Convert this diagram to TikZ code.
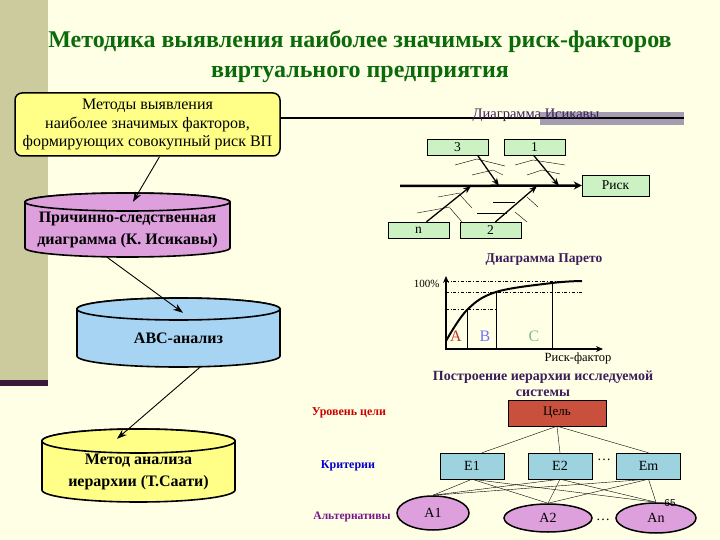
\documentclass[tikz,border=0pt]{standalone}
\usepackage{fontspec}
\setmainfont{Liberation Serif}
\newfontfamily\arialfont{Liberation Sans}
\usepackage{tikz}
\usetikzlibrary{shapes.geometric, arrows.meta, positioning, calc}
\definecolor{fundo}{HTML}{FFFFE6}
\definecolor{oliva}{HTML}{CBCB9E}
\definecolor{roxoescuro}{HTML}{3A1A3A}
\definecolor{titulo}{HTML}{0B6B0B}
\definecolor{amarelo}{HTML}{FFFF88}
\definecolor{lilas}{HTML}{DDA0DD}
\definecolor{azulcil}{HTML}{A6D4F2}
\definecolor{verdeclaro}{HTML}{CCF2C4}
\definecolor{tijolo}{HTML}{C8503C}
\definecolor{azulclaro}{HTML}{9CD3DF}
\definecolor{roxotexto}{HTML}{3C1E5A}
\definecolor{cinzalilas}{HTML}{A49CB0}
\newcommand{\tam}[2]{\fontsize{#1}{#2}\selectfont}

\begin{document}
\begin{tikzpicture}[x=1pt, y=-1pt,
    caixa/.style={draw, rounded corners=7pt, fill=amarelo, line width=1.5pt, align=center, font=\tam{16}{18.5}},
    cilindro/.style={inner sep=0pt, align=center, font=\bfseries\tam{16}{22}},
    contorno/.style={draw, line width=1.6pt},
    verde/.style={draw, fill=verdeclaro, minimum width=61pt, minimum height=16pt, inner sep=0pt, font=\tam{13.5}{15}},
    criterio/.style={draw, fill=azulclaro, minimum width=64pt, minimum height=26pt, inner sep=0pt, font=\tam{14}{16}},
    alternativa/.style={ellipse, draw, line width=1.5pt, fill=lilas, inner sep=0pt, font=\tam{14}{16}},
    seta/.style={-{Stealth[length=10pt, width=7pt]}, line width=0.9pt},
    ramo/.style={-{Stealth[length=8pt, width=6pt]}, line width=1.3pt},
    osso/.style={thin},
    nivel/.style={font=\bfseries\tam{12}{14}}
]
    % fundo e barra lateral
    \fill[fundo] (0,0) rectangle (720,540);
    \fill[oliva] (0,0) rectangle (48,380);
    \fill[roxoescuro] (0,380) rectangle (48,386);

    \node[font=\bfseries\tam{24}{30}, text=titulo, align=center] (titulo) at (360,57)
        {Методика выявления наиболее значимых риск-факторов\\виртуального предприятия};

    % cilindros
    \draw[contorno, fill=lilas] (25,202) -- (25,248) arc[start angle=180, end angle=360, x radius=102.5pt, y radius=9pt]
        -- (230,202) arc[start angle=0, end angle=180, x radius=102.5pt, y radius=9pt] -- cycle;
    \draw[contorno, fill=lilas] (127.5,202) ellipse[x radius=102.5pt, y radius=9pt];
    \draw[contorno, fill=azulcil] (77,309) -- (77,356) arc[start angle=180, end angle=360, x radius=101.5pt, y radius=11pt]
        -- (280,309) arc[start angle=0, end angle=180, x radius=101.5pt, y radius=11pt] -- cycle;
    \draw[contorno, fill=azulcil] (178.5,309) ellipse[x radius=101.5pt, y radius=11pt];
    \draw[contorno, fill=amarelo] (42,441) -- (42,490) arc[start angle=180, end angle=360, x radius=96.5pt, y radius=12pt]
        -- (235,441) arc[start angle=0, end angle=180, x radius=96.5pt, y radius=12pt] -- cycle;
    \draw[contorno, fill=amarelo] (138.5,441) ellipse[x radius=96.5pt, y radius=12pt];

    % coluna da esquerda
    \node[caixa, minimum width=265pt, minimum height=63pt] (metodos) at (147.5,124.5)
        {Методы выявления\\наиболее значимых факторов,\\формирующих совокупный риск ВП};
    \node[cilindro, minimum width=205pt, minimum height=55pt] (ishikawa) at (127.5,229.5)
        {Причинно-следственная\\диаграмма  (К. Исикавы)};
    \node[cilindro, minimum width=203pt, minimum height=58pt] (abc) at (178.5,338) {АВС-анализ};
    \node[cilindro, minimum width=193pt, minimum height=61pt] (saaty) at (138.5,471.5)
        {Метод анализа\\иерархии (Т.Саати)};

    \draw[seta] ([xshift=12pt]metodos.south) -- ([xshift=5.5pt]ishikawa.north);
    \draw[seta] ([xshift=-20.5pt]ishikawa.south) -- ([xshift=4.5pt, yshift=-4pt]abc.north);
    \draw[seta] ([xshift=21.5pt]abc.south) -- ([xshift=-21.5pt, yshift=2pt]saaty.north);

    % diagrama de Ishikawa
    \coordinate (fimlinha) at (684,118);
    \fill[cinzalilas] (540,112) rectangle (684,125);
    \draw[line width=1.5pt] (metodos.east |- fimlinha) -- (fimlinha);
    \node[font=\tam{14.5}{16}, text=roxotexto] (tituloishi) at (536,115) {Диаграмма Исикавы};

    \node[verde, minimum width=67pt, minimum height=21pt] (risco) at (615.5,185.5) {Риск};
    \node[verde] (c3) at (457.5,147) {3};
    \node[verde] (c1) at (534.5,147) {1};
    \node[verde] (cn) at (418.5,230) {n};
    \node[verde] (c2) at (490.5,230) {2};

    \coordinate (espinha) at (400,186);
    \coordinate (p3) at (499,186);
    \coordinate (p1) at (559,186);
    \coordinate (pn) at (471,186);
    \coordinate (p2) at (537,186);
    \draw[line width=2.5pt, -{Stealth[length=8pt, width=8pt]}] (espinha) -- (risco.west);
    \draw[ramo] ([xshift=20pt]c3.south) -- (p3);
    \draw[ramo] ([xshift=-1pt]c1.south) -- (p1);
    \draw[ramo] ([xshift=8pt]cn.north) -- (pn);
    \draw[ramo] ([xshift=5pt]c2.north) -- (p2);

    \draw[osso] (455,165) -- (477,159) -- (505,166);
    \draw[osso] (472,175) -- (493,170) -- (503,175);
    \draw[osso] (515,165) -- (533,160) -- (565,165);
    \draw[osso] (527,175) -- (542,170) -- (560,174);
    \draw[osso] (438,197) -- (460,193);
    \draw[osso] (417,213) -- (450,207);
    \draw[osso] (460,195) -- (472,208);
    \draw[osso] (450,208) -- (462,222);
    \draw[osso] (493,202) -- (515,202);
    \draw[osso] (477,213) -- (507,213);
    \draw[osso] (527,197) -- (538,207);
    \draw[osso] (515,212) -- (527,222);

    % diagrama de Pareto
    \node[font=\bfseries\tam{13.5}{15}, text=roxotexto] (titulopareto) at (544,260) {Диаграмма Парето};
    \draw[line width=1.5pt, -{Stealth[length=7pt, width=6pt]}] (446,350) -- (446,276);
    \draw[line width=1.5pt, -{Stealth[length=7pt, width=6pt]}] (445,349) -- (603,349);
    \node[font=\tam{11}{13}, anchor=east] (cem) at (443,284) {100\%};
    \draw[dash dot] (446,281) -- (582,281);
    \draw[dash dot] (446,292) -- (582,292);
    \draw[dash dot] (446,309) -- (497,309);
    \draw (467,309) -- (467,349);
    \draw (496,292) -- (496,349);
    \draw (552,282) -- (552,349);
    \draw[line width=2pt] plot[smooth, tension=0.6] coordinates {(446,341) (467,310) (496,292) (552,283) (582,281)};
    \node[font=\tam{16}{18}, text=red!70!black!80] (la) at (456,336) {A};
    \node[font=\tam{16}{18}, text=blue!55] (lb) at (485,336) {B};
    \node[font=\tam{16}{18}, text=green!50!black!50] (lc) at (534,336) {C};
    \node[font=\tam{12.5}{14}] (eixox) at (578,358) {Риск-фактор};

    % hierarquia
    \node[font=\bfseries\tam{14}{16}, text=roxotexto, align=center] (tituloahp) at (543,384)
        {Построение иерархии исследуемой\\системы};
    \node[draw, fill=tijolo, minimum width=98pt, minimum height=26pt, font=\tam{13}{15}] (alvo) at (557,413) {Цель};
    \node[criterio] (e1) at (472,466) {E1};
    \node[criterio] (e2) at (560,466) {E2};
    \node[criterio] (em) at (648.5,466) {Em};
    \node[font=\tam{14}{14}] (pts1) at (604,460) {\dots};
    \node[alternativa, minimum width=72pt, minimum height=34pt] (a1) at (433,513) {A1};
    \node[alternativa, minimum width=88pt, minimum height=28pt] (a2) at (548,518) {A2};
    \node[alternativa, minimum width=80pt, minimum height=30pt] (an) at (656,518) {An};
    \node[font=\tam{14}{14}] (pts2) at (603,520) {\dots};
    \node[font=\arialfont\tam{10}{12}] (pagina) at (670,503) {65};

    \draw (alvo.south) -- ([xshift=10pt]e1.north);
    \draw (alvo.south) -- (e2.north);
    \draw (alvo.south) -- (em.north);
    \foreach \e in {e1,e2,em}
        \foreach \a in {a1,a2,an}
            \draw (\e.south) -- (\a.north);

    \node[nivel, text=red!80!black] (lalvo) at (349,413) {Уровень цели};
    \node[nivel, text=blue!80!black] (lcrit) at (348,466) {Критерии};
    \node[nivel, text=roxotexto!70!magenta, font=\bfseries\tam{11.5}{14}] (lalt) at (352,517) {Альтернативы};
\end{tikzpicture}
\end{document}
